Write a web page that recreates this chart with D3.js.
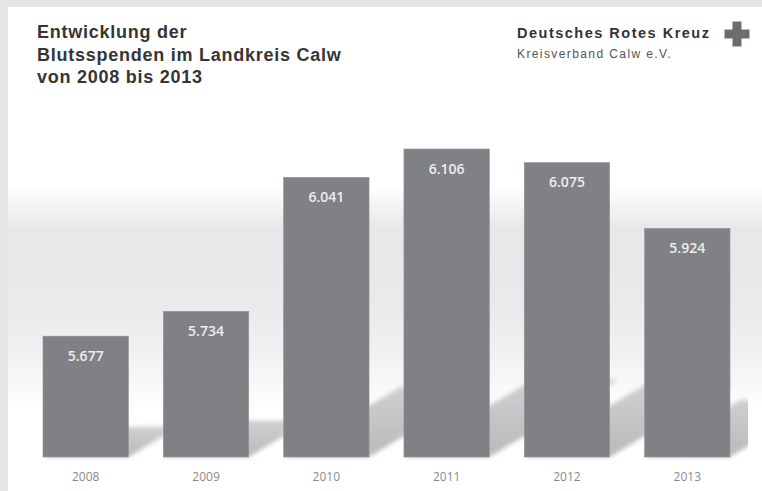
<!DOCTYPE html>
<html>
<head>
<meta charset="utf-8">
<script src="https://cdn.jsdelivr.net/npm/d3@7"></script>
<style>
  body { margin: 0; background: #fff; }
  svg { display: block; }
</style>
</head>
<body>
<div id="chart"></div>
<script>
// data
const years = ["2008", "2009", "2010", "2011", "2012", "2013"];
const donations = [5677, 5734, 6041, 6106, 6075, 5924];
const titleLines = ["Entwicklung der", "Blutsspenden im Landkreis Calw", "von 2008 bis 2013"];
const orgName = "Deutsches Rotes Kreuz";
const orgSub = "Kreisverband Calw e.V.";

const data = years.map((y, i) => ({year: y, value: donations[i]}));

const W = 762, H = 491;
const barColor = "#808185";

const svg = d3.select("#chart")
  .append("svg")
  .attr("width", W)
  .attr("height", H);

const defs = svg.append("defs");

// background band
const bg = defs.append("linearGradient")
  .attr("id", "bgGrad")
  .attr("x1", 0).attr("y1", 0).attr("x2", 0).attr("y2", 1);
[[0, "#ffffff"], [0.37, "#ffffff"], [0.46, "#e6e7e9"], [0.62, "#e9eaec"], [0.72, "#f0f1f2"], [0.83, "#ffffff"], [1, "#ffffff"]]
  .forEach(s => bg.append("stop").attr("offset", s[0]).attr("stop-color", s[1]));

const sh = defs.append("linearGradient")
  .attr("id", "shGrad")
  .attr("x1", 0).attr("y1", 1).attr("x2", 0).attr("y2", 0);
sh.append("stop").attr("offset", 0).attr("stop-color", "#b8b9bb");
sh.append("stop").attr("offset", 1).attr("stop-color", "#cfd0d2");

defs.append("filter").attr("id", "blur")
  .attr("x", "-20%").attr("y", "-20%").attr("width", "140%").attr("height", "140%")
  .append("feGaussianBlur").attr("stdDeviation", 2);

defs.append("clipPath").attr("id", "plotClip")
  .append("rect").attr("x", 8).attr("y", 7).attr("width", 740).attr("height", 460);

// frame
svg.append("rect").attr("width", W).attr("height", H).attr("fill", "#e4e5e7");
svg.append("rect").attr("x", 8).attr("y", 7).attr("width", W - 8).attr("height", H - 7).attr("fill", "#fff");
svg.append("rect").attr("x", 8).attr("y", 7).attr("width", W - 8).attr("height", H - 7).attr("fill", "url(#bgGrad)");

// scales
const x = d3.scaleBand()
  .domain(years)
  .range([43, 730])
  .paddingInner(0.29)
  .paddingOuter(0);

const y = d3.scaleLinear()
  .domain([5400, 6106])
  .range([457, 149]);

const base = y(5400);

// floor shadows
svg.append("g")
  .attr("clip-path", "url(#plotClip)")
  .selectAll("path")
  .data(data)
  .join("path")
  .attr("d", d => {
    const x0 = x(d.year), x1 = x0 + x.bandwidth();
    const e = (base - y(d.value)) * 0.25;
    const dx = e / 0.6;
    return `M${x0},${base}L${x1},${base}L${x1 + dx},${base - e}L${x0 + dx},${base - e}Z`;
  })
  .attr("fill", "url(#shGrad)")
  .attr("filter", "url(#blur)");

// bars
svg.append("g")
  .selectAll("rect")
  .data(data)
  .join("rect")
  .attr("x", d => x(d.year))
  .attr("y", d => y(d.value))
  .attr("width", x.bandwidth())
  .attr("height", d => base - y(d.value))
  .attr("fill", barColor)
  .attr("stroke", "#939497")
  .attr("stroke-width", 0.6);

// value labels
svg.append("g")
  .selectAll("text")
  .data(data)
  .join("text")
  .attr("x", d => x(d.year) + x.bandwidth() / 2)
  .attr("y", d => y(d.value) + 24.5)
  .attr("text-anchor", "middle")
  .attr("fill", "#eeeeee")
  .style("font-family", "'Open Sans', sans-serif")
  .style("font-weight", 600)
  .style("font-size", "14px")
  .text(d => d3.format(",")(d.value).replace(",", "."));

// year axis
const axis = svg.append("g")
  .attr("transform", `translate(0,${base})`)
  .call(d3.axisBottom(x).tickSize(0).tickPadding(15));
axis.select(".domain").remove();
axis.selectAll("text")
  .attr("fill", "#8a8a8a")
  .style("font-family", "'Open Sans', sans-serif")
  .style("font-size", "12px");

// title
svg.append("text")
  .attr("x", 37)
  .attr("y", 38)
  .attr("fill", "#353535")
  .style("font-family", "'Liberation Sans', Arial, sans-serif")
  .style("font-weight", "bold")
  .style("font-size", "18px")
  .style("letter-spacing", "0.75px")
  .selectAll("tspan")
  .data(titleLines)
  .join("tspan")
  .attr("x", 37)
  .attr("dy", (d, i) => i ? 22.5 : 0)
  .text(d => d);

// organisation
svg.append("text")
  .attr("x", 517).attr("y", 38)
  .attr("fill", "#333")
  .style("font-family", "'Liberation Sans', Arial, sans-serif")
  .style("font-weight", "bold")
  .style("font-size", "14.5px")
  .style("letter-spacing", "1.5px")
  .text(orgName);

svg.append("text")
  .attr("x", 517).attr("y", 58)
  .attr("fill", "#555")
  .style("font-family", "'Liberation Sans', Arial, sans-serif")
  .style("font-size", "12px")
  .style("letter-spacing", "1.4px")
  .text(orgSub);

// cross
const cx = 737, cy = 34, cs = 25, ca = 9;
svg.append("path")
  .attr("d", `M${cx - ca / 2},${cy - cs / 2}h${ca}v${(cs - ca) / 2}h${(cs - ca) / 2}v${ca}h${-(cs - ca) / 2}v${(cs - ca) / 2}h${-ca}v${-(cs - ca) / 2}h${-(cs - ca) / 2}v${-ca}h${(cs - ca) / 2}Z`)
  .attr("fill", "#6c6d70");
</script>
</body>
</html>
